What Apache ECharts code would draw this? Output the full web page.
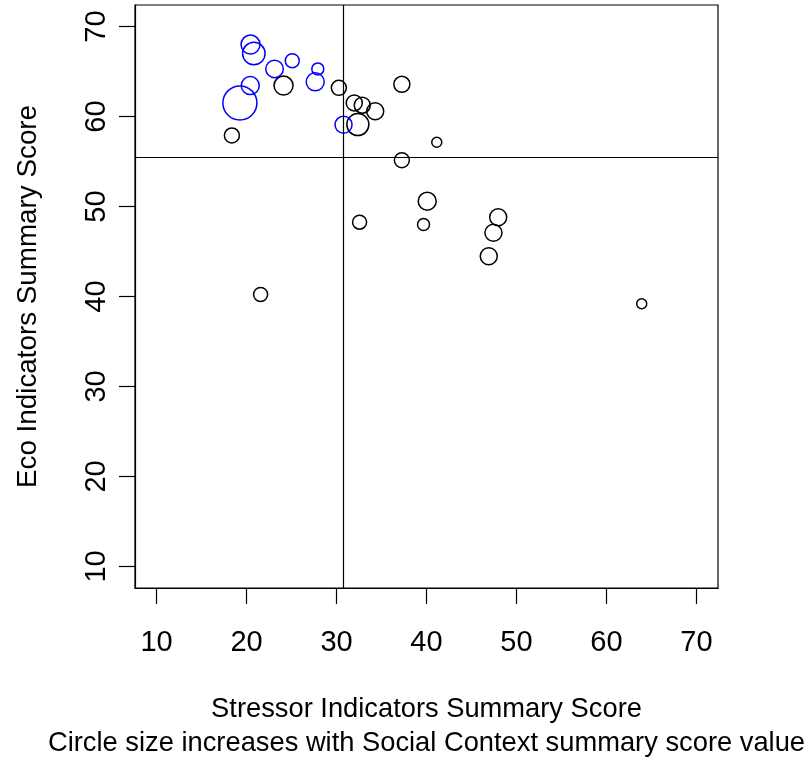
<!DOCTYPE html>
<html>
<head>
<meta charset="utf-8">
<script src="https://cdn.jsdelivr.net/npm/echarts@6/dist/echarts.min.js"></script>
<style>
html,body{margin:0;padding:0;background:#fff;}
#chart{width:808px;height:757px;}
</style>
</head>
<body>
<div id="chart"></div>
<script>
// Stressor score (x), Eco score (y), Social Context score (circle size)
var blueStressor = [20.44, 20.81, 23.11, 25.08, 27.92, 27.63, 20.41, 19.26, 30.78];
var blueEco      = [68.0, 67.0, 65.3, 66.2, 65.3, 63.86, 63.44, 61.52, 59.1];
var blueSocial   = [38, 45, 35, 28, 24, 36, 36, 68, 34];

var blackStressor = [24.11, 18.37, 30.26, 31.97, 32.86, 34.3, 32.37, 37.26, 41.14, 37.26, 40.08, 39.67, 32.56, 47.97, 47.44, 46.92, 21.56, 63.92];
var blackEco      = [63.44, 57.9, 63.19, 61.52, 61.26, 60.59, 59.11, 63.59, 57.14, 55.14, 50.59, 48.0, 48.26, 48.81, 47.08, 44.48, 40.22, 39.19];
var blackSocial   = [38, 30, 30, 32, 32, 34, 44, 32, 20, 30, 36, 24, 28, 34, 34, 34, 28, 20];

var tickValues = [10, 20, 30, 40, 50, 60, 70];
var refStressor = 30.76;
var refEco = 55.48;

var xTitle = 'Stressor Indicators Summary Score';
var xSubtitle = 'Circle size increases with Social Context summary score value';
var yTitle = 'Eco Indicators Summary Score';

function pts(xs, ys, ss) {
  return xs.map(function (x, i) { return [x, ys[i], ss[i]]; });
}

var FONT = '"Liberation Sans", Arial, sans-serif';
var chart = echarts.init(document.getElementById('chart'), null, {renderer: 'canvas'});

function axisCommon() {
  return {
    type: 'value',
    min: 7.6,
    max: 72.4,
    splitLine: {show: false},
    axisLine: {show: true, lineStyle: {color: '#000', width: 1.2}},
    axisTick: {show: true, inside: false, length: 16, customValues: tickValues, lineStyle: {color: '#000', width: 1.2}},
    axisLabel: {customValues: tickValues, color: '#000', fontSize: 29, fontFamily: FONT},
    nameLocation: 'middle',
    nameTextStyle: {color: '#000', fontSize: 27.3, fontFamily: FONT}
  };
}

var xAxis = axisCommon();
xAxis.axisLabel.margin = 40;
xAxis.name = xTitle + '\n' + xSubtitle;
xAxis.nameGap = 104;
xAxis.nameTextStyle.lineHeight = 34;

var yAxis = axisCommon();
yAxis.axisLabel.rotate = 90;
yAxis.axisLabel.margin = 24;
yAxis.name = yTitle;
yAxis.nameTextStyle.fontSize = 27.8;
yAxis.nameGap = 93;

function circleSeries(data, color) {
  return {
    type: 'scatter',
    data: data,
    symbol: 'circle',
    symbolSize: function (v) { return v[2] / 2; },
    itemStyle: {color: 'rgba(0,0,0,0)', borderColor: color, borderWidth: 1.5, opacity: 1},
    emphasis: {disabled: true},
    silent: true,
    animation: false
  };
}

var black = circleSeries(pts(blackStressor, blackEco, blackSocial), '#000000');
black.markLine = {
  silent: true,
  symbol: ['none', 'none'],
  label: {show: false},
  lineStyle: {color: '#000', width: 1.2, type: 'solid'},
  animation: false,
  data: [{xAxis: refStressor}, {yAxis: refEco}]
};

chart.setOption({
  animation: false,
  backgroundColor: '#fff',
  grid: {left: 135, top: 5, width: 583, height: 583, show: true, borderColor: '#000', borderWidth: 1.2, containLabel: false, outerBoundsMode: 'none'},
  xAxis: xAxis,
  yAxis: yAxis,
  series: [black, circleSeries(pts(blueStressor, blueEco, blueSocial), '#0000ff')]
});
</script>
</body>
</html>
